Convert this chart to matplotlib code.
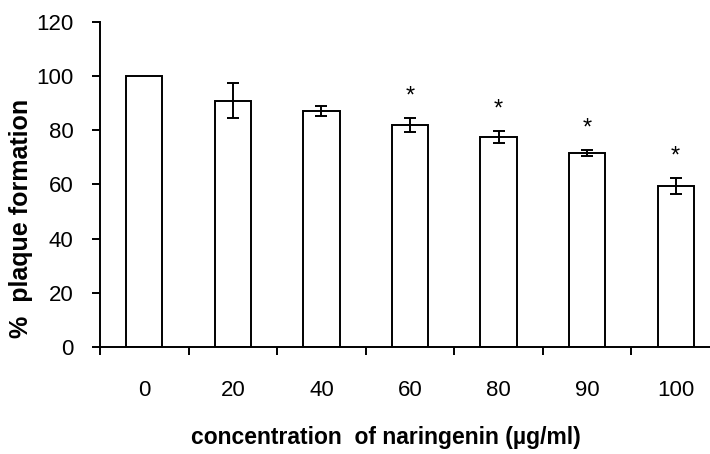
import matplotlib
matplotlib.use('Agg')
import matplotlib.pyplot as plt
import numpy as np

# naringenin plaque reduction assay
concentrations = ['0', '20', '40', '60', '80', '90', '100']
plaque_pct = [100, 91, 87.2, 82, 77.6, 71.6, 59.5]
plaque_err = [0, 6.3, 1.9, 2.5, 2.2, 1.2, 3.0]
significant = [False, False, False, True, True, True, True]

plt.rcParams['font.family'] = ['Liberation Sans', 'DejaVu Sans']

fig = plt.figure(figsize=(7.1, 4.54), dpi=100)
ax = fig.add_axes([100 / 710, 107 / 454, 620 / 710, 325 / 454])

x = np.arange(len(concentrations))
ax.bar(x, plaque_pct, width=0.41, color='white', edgecolor='black', linewidth=1.4,
       zorder=2)
ax.errorbar(x[1:], plaque_pct[1:], yerr=plaque_err[1:], fmt='none', ecolor='black',
            elinewidth=1.4, capsize=4.5, capthick=1.4, zorder=3)

for xi, val, err, sig in zip(x, plaque_pct, plaque_err, significant):
    if sig:
        ax.annotate('*', (xi, val + err), xytext=(0, 7.5), textcoords='offset points',
                    ha='center', va='bottom', fontsize=17)

ax.set_xlim(-0.5, len(concentrations) - 0.5)
ax.set_ylim(0, 120)
ax.set_yticks(range(0, 121, 20))
ax.set_xticks(x)
ax.set_xticklabels(concentrations)
ax.set_xticks(np.arange(-0.5, len(concentrations), 1), minor=True)

ax.tick_params(axis='y', direction='out', length=6, width=1.4, labelsize=16, pad=13)
ax.tick_params(axis='x', which='major', length=0, labelsize=16, pad=24)
ax.tick_params(axis='x', which='minor', direction='out', length=6, width=1.4)

for side in ['top', 'right']:
    ax.spines[side].set_visible(False)
for side in ['left', 'bottom']:
    ax.spines[side].set_linewidth(1.4)

ax.set_ylabel('%  plaque formation', fontsize=18, fontweight='bold', va='center')
ax.yaxis.set_label_coords(-0.127, 0.397)
ax.set_xlabel('concentration  of naringenin (\u00b5g/ml)', fontsize=16.5,
              fontweight='bold', va='center')
ax.xaxis.set_label_coords(0.461, -0.277)

fig.savefig('out.png', dpi=100)
